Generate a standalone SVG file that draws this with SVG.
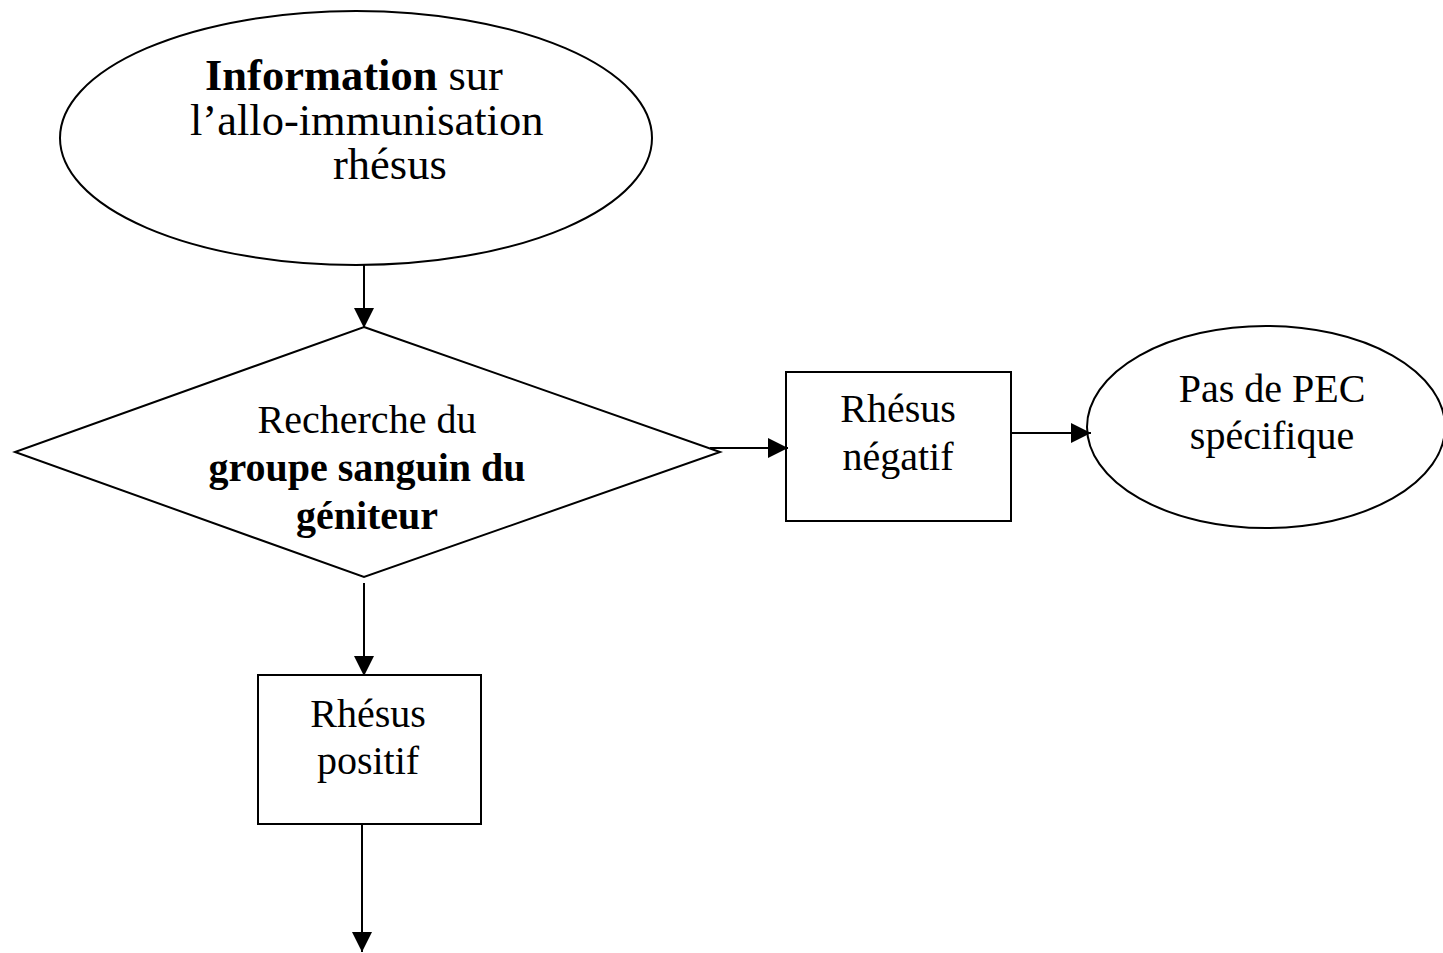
<svg xmlns="http://www.w3.org/2000/svg" width="1443" height="953" viewBox="0 0 1443 953">
<defs>
<style>
.sh{fill:#fff;stroke:#000;stroke-width:2}
.t{font-family:"Liberation Serif","Times New Roman",serif;font-size:40px;fill:#000}
.big{font-size:44.5px}
.b{font-weight:bold}
.c{stroke:#000;stroke-width:2;fill:none}
</style>
<marker id="ah" viewBox="0 0 20 20" refX="20" refY="10" markerWidth="20" markerHeight="20" markerUnits="userSpaceOnUse" orient="auto">
<path d="M0,0 L20,10 L0,20 Z" fill="#000"/>
</marker>
</defs>
<rect width="1443" height="953" fill="#fff"/>
<g id="n-info">
<ellipse class="sh" cx="356" cy="138" rx="296" ry="127"/>
<text class="t big" x="205" y="90"><tspan class="b">Information</tspan> sur</text>
<text class="t big" x="190" y="135">l’allo-immunisation</text>
<text class="t big" x="333" y="179">rhésus</text>
</g>
<g id="n-recherche">
<polygon class="sh" points="364,327 720,452 364,577 15,452"/>
<text class="t" x="367" y="433" text-anchor="middle">Recherche du</text>
<text class="t b" x="367" y="481" text-anchor="middle">groupe sanguin du</text>
<text class="t b" x="367" y="529" text-anchor="middle">géniteur</text>
</g>
<g id="n-negatif">
<rect class="sh" x="786" y="372" width="225" height="149"/>
<text class="t" x="898" y="422" text-anchor="middle">Rhésus</text>
<text class="t" x="898" y="470" text-anchor="middle">négatif</text>
</g>
<g id="n-pasdepec">
<ellipse class="sh" cx="1266" cy="427" rx="179" ry="101"/>
<text class="t" x="1272" y="402" text-anchor="middle">Pas de PEC</text>
<text class="t" x="1272" y="449" text-anchor="middle">spécifique</text>
</g>
<g id="n-positif">
<rect class="sh" x="258" y="675" width="223" height="149"/>
<text class="t" x="368" y="727" text-anchor="middle">Rhésus</text>
<text class="t" x="368" y="774" text-anchor="middle">positif</text>
</g>
<g id="connectors">
<line class="c" x1="364" y1="265" x2="364" y2="328" marker-end="url(#ah)"/>
<line class="c" x1="710" y1="448" x2="788" y2="448" marker-end="url(#ah)"/>
<line class="c" x1="1012" y1="433" x2="1091" y2="433" marker-end="url(#ah)"/>
<line class="c" x1="364" y1="583" x2="364" y2="676" marker-end="url(#ah)"/>
<line class="c" x1="362" y1="824" x2="362" y2="952" marker-end="url(#ah)"/>
</g>
</svg>
